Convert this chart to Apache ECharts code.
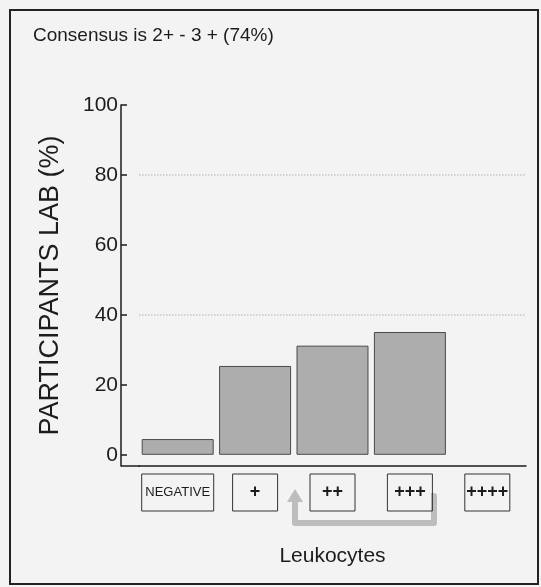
<!DOCTYPE html>
<html>
<head>
<meta charset="utf-8">
<script src="https://cdn.jsdelivr.net/npm/echarts@6/dist/echarts.min.js"></script>
<style>
  html, body { margin: 0; padding: 0; background: #f3f3f3; }
  #chart { width: 541px; height: 587px; }
</style>
</head>
<body>
<div id="chart"></div>
<script>
const categories = ['NEGATIVE', '+', '++', '+++', '++++'];
const values = [4.5, 25.4, 31.2, 35.1, 0];
const yTicks = [0, 20, 40, 60, 80, 100];
const gridLevels = [40, 80];

const font = "'Liberation Sans', Arial, sans-serif";
const ink = '#1c1c1c';

const chart = echarts.init(document.getElementById('chart'));

const option = {
  backgroundColor: '#f3f3f3',
  animation: false,
  title: {
    text: 'Consensus is 2+ - 3 + (74%)',
    left: 33,
    top: 26,
    padding: 0,
    textStyle: { fontFamily: font, fontSize: 19, fontWeight: 'normal', color: ink }
  },
  grid: { left: 139, right: 15, top: 105, bottom: 121 },
  xAxis: {
    type: 'category',
    data: categories,
    name: 'Leukocytes',
    nameLocation: 'middle',
    nameGap: 80,
    nameTextStyle: { fontFamily: font, fontSize: 21, color: ink },
    axisLine: { onZero: false, lineStyle: { color: ink, width: 1.5 } },
    axisTick: { alignWithLabel: true, inside: true, length: 10, lineStyle: { color: ink, width: 1.5 } },
    axisLabel: {
      margin: 8,
      interval: 0,
      formatter: v => v === 'NEGATIVE' ? '{neg|' + v + '}' : '{p|' + v + '}',
      rich: {
        neg: {
          width: 72, height: 37, align: 'center', fontFamily: font, fontSize: 13,
          color: ink, borderColor: '#333', borderWidth: 1
        },
        p: {
          width: 45, height: 37, align: 'center', fontFamily: font, fontSize: 18,
          fontWeight: 'bold', color: ink, borderColor: '#333', borderWidth: 1
        }
      }
    }
  },
  yAxis: {
    type: 'value',
    min: -3.2,
    max: 100,
    offset: 18,
    name: 'PARTICIPANTS LAB (%)',
    nameLocation: 'middle',
    nameGap: 57,
    nameTextStyle: { fontFamily: font, fontSize: 27, color: ink },
    axisLine: { show: true, lineStyle: { color: ink, width: 1.5 } },
    axisTick: { show: true, inside: true, length: 6, customValues: yTicks, lineStyle: { color: ink, width: 1.5 } },
    axisLabel: { margin: 3, customValues: yTicks, fontFamily: font, fontSize: 21, color: ink },
    splitLine: { show: false }
  },
  series: [{
    type: 'bar',
    barCategoryGap: '7%',
    data: values.map(v => ({
      value: v,
      itemStyle: v === 0 ? { borderWidth: 0 } : {}
    })),
    itemStyle: { color: '#adadad', borderColor: '#4a4a4a', borderWidth: 1 },
    markLine: {
      silent: true,
      symbol: 'none',
      label: { show: false },
      lineStyle: { color: '#c8c8c8', type: 'dotted', width: 1.5 },
      data: gridLevels.map(v => ({ yAxis: v }))
    }
  }],
  graphic: [
    // outer frame of the scanned figure
    { type: 'rect', shape: { x: 10, y: 10, width: 528, height: 574 },
      style: { fill: 'none', stroke: '#222', lineWidth: 2 }, silent: true },
    // axis line piece between the offset y axis and the plot area
    { type: 'line', shape: { x1: 121, y1: 466, x2: 140, y2: 466 },
      style: { stroke: ink, lineWidth: 1.5 }, silent: true },
    // grey arrow from +++ back to ++
    { type: 'polyline', shape: { points: [[431, 496], [434, 496], [434, 523], [295, 523], [295, 501]] },
      style: { fill: 'none', stroke: '#bdbdbd', lineWidth: 6, lineJoin: 'round' }, silent: true },
    { type: 'polygon', shape: { points: [[287, 502], [303, 502], [295, 489]] },
      style: { fill: '#bdbdbd' }, silent: true }
  ]
};

chart.setOption(option);
</script>
</body>
</html>
